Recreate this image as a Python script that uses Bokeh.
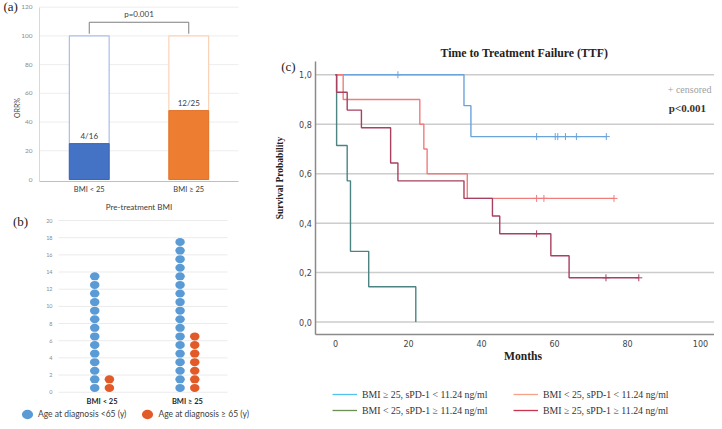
import numpy as np
from bokeh.plotting import figure
from bokeh.layouts import row, column
from bokeh.models import (FixedTicker, Label, Legend, LegendItem, CustomJSTickFormatter,
                          Range1d, Title, LinearAxis)
from bokeh.embed import file_html
from bokeh.resources import INLINE
from bokeh.core.properties import value

# ---------------- data ----------------
# Panel (a): objective response rate by BMI group
bmi_groups = ["BMI < 25", "BMI ≥ 25"]
orr_pct = [25, 48]
orr_text = ["4/16", "12/25"]
total_pct = [100, 100]
p_value_a = "p=0.001"
orr_ticks = [0, 20, 40, 60, 80, 100, 120]

# Panel (b): patient counts by age at diagnosis
age_young = [14, 18]   # < 65 y
age_old = [2, 7]       # >= 65 y
count_ticks = [0, 2, 4, 6, 8, 10, 12, 14, 16, 18, 20]
age_labels = ["Age at diagnosis <65 (y)", "Age at diagnosis ≥ 65 (y)"]

# Panel (c): Kaplan-Meier time to treatment failure
km_names = ["BMI ≥ 25, sPD-1 < 11.24 ng/ml", "BMI < 25, sPD-1 ≥ 11.24 ng/ml",
            "BMI < 25, sPD-1 < 11.24 ng/ml", "BMI ≥ 25, sPD-1 ≥ 11.24 ng/ml"]
blue_t = [0, 35.2, 37.1, 74.2]
blue_s = [1.0, 0.875, 0.75, 0.75]
blue_cens = [17.1, 55.1, 60.2, 60.9, 63.0, 66.0, 74.2]
salmon_t = [0, 2.1, 23.1, 24.2, 25.1, 36.1, 76.3]
salmon_s = [1.0, 0.9, 0.8, 0.7, 0.6, 0.5, 0.5]
salmon_cens = [55.1, 57.1, 76.3]
teal_t = [0, 0.3, 3.2, 4.1, 9.1, 22.0]
teal_s = [1.0, 0.714, 0.571, 0.286, 0.143, 0.0]
teal_cens = []
crimson_t = [0, 0.3, 3.2, 7.1, 15.1, 17.1, 35.2, 43.0, 45.0, 59.0, 64.0, 83.1]
crimson_s = [1.0, 0.929, 0.857, 0.786, 0.643, 0.571, 0.5, 0.429, 0.357, 0.268, 0.179, 0.179]
crimson_cens = [55.1, 74.1, 83.1]
month_ticks = [0, 20, 40, 60, 80, 100]
surv_ticks = [0.0, 0.2, 0.4, 0.6, 0.8, 1.0]

SANS = "Lato"
SERIF = "Liberation Serif"


def bare(ax):
    ax.major_tick_line_color = None
    ax.minor_tick_line_color = None
    ax.major_tick_out = 0
    ax.major_tick_in = 0
    ax.minor_tick_out = 0
    ax.minor_tick_in = 0


def label_axis(p, side, text, loc, bounds, standoff, font, size, style, color):
    ax = LinearAxis(ticker=FixedTicker(ticks=[]), fixed_location=loc, bounds=bounds,
                    axis_label=text, axis_line_color=None, major_label_standoff=0,
                    axis_label_standoff=standoff, axis_label_text_font=font,
                    axis_label_text_font_size=size, axis_label_text_font_style=style,
                    axis_label_text_color=color)
    bare(ax)
    p.add_layout(ax, side)


# ---------------- panel (a) ----------------
pa = figure(width=258, height=211, x_range=Range1d(-0.892, 1.701), y_range=Range1d(-22.28, 124.65),
            output_backend="svg", toolbar_location=None, min_border=0)
pa.outline_line_color = None
pa.xgrid.grid_line_color = None
pa.ygrid.grid_line_color = None
xa = list(range(len(bmi_groups)))
ax0 = -0.5
ax1 = 1.5
y_base = -1.4
pa.segment(x0=ax0, x1=ax1, y0=orr_ticks[1:], y1=orr_ticks[1:], line_color="#EDEDED", line_width=1)
pa.vbar(x=xa, top=total_pct, width=0.4, fill_color="white",
        line_color=["#A9BEE6", "#FAD2B6"], line_width=1.2)
pa.vbar(x=xa, top=orr_pct, width=0.4, fill_color=["#4472C4", "#ED7D31"],
        line_color=["#3E66B0", "#E0742C"], line_width=1)
pa.text(x=xa, y=orr_pct, text=orr_text, text_align="center", text_baseline="bottom",
        y_offset=-3, text_font=value(SANS), text_font_size="8px", text_color="#404040")
btop = max(total_pct) + 9.5
pa.line(x=[xa[0], xa[0], xa[1], xa[1]], y=[total_pct[0] + 1.5, btop, btop, total_pct[1] + 1.5],
        line_color="#7F7F7F", line_width=1)
pa.text(x=[(xa[0] + xa[1]) / 2], y=[btop + 2], text=[p_value_a], text_align="center",
        text_baseline="bottom", text_font=value(SANS), text_font_size="8px", text_color="#404040")
xa_ax = pa.xaxis[0]
ya_ax = pa.yaxis[0]
xa_ax.fixed_location = y_base
xa_ax.bounds = (ax0, ax1)
ya_ax.fixed_location = ax0
ya_ax.bounds = (y_base, max(orr_ticks))
xa_ax.ticker = FixedTicker(ticks=xa)
xa_ax.major_label_overrides = {i: g for i, g in enumerate(bmi_groups)}
ya_ax.ticker = FixedTicker(ticks=orr_ticks)
for ax in (xa_ax, ya_ax):
    bare(ax)
    ax.major_label_text_font = SANS
xa_ax.axis_line_color = "#BFBFBF"
ya_ax.axis_line_color = "#D9D9D9"
xa_ax.major_label_text_font_size = "7.5px"
xa_ax.major_label_text_color = "#404040"
xa_ax.major_label_standoff = 3
xa_ax.axis_label = "Pre-treatment BMI"
xa_ax.axis_label_text_font = SANS
xa_ax.axis_label_text_font_style = "normal"
xa_ax.axis_label_text_font_size = "8px"
xa_ax.axis_label_text_color = "#404040"
xa_ax.axis_label_standoff = 5
ya_ax.major_label_text_font_size = "6.5px"
ya_ax.major_label_text_color = "#8C8C8C"
ya_ax.major_label_standoff = 7
label_axis(pa, "left", "ORR%", ax0, (y_base, 101.2), 19, SANS, "7px", "normal", "#404040")
pa.add_layout(Label(x=-0.79, y=120.8, text="(a)", text_font=SERIF, text_font_size="13px",
                    text_color="#222222", text_align="center", text_baseline="middle"))

# ---------------- panel (b) ----------------
pb = figure(width=258, height=210, x_range=Range1d(-1.19, 1.833), y_range=Range1d(-3.41, 21.05),
            output_backend="svg", toolbar_location=None, min_border=0)
pb.outline_line_color = None
pb.xgrid.grid_line_color = None
pb.ygrid.grid_line_color = None
bx0, bx1 = -0.51, 1.47
pb.segment(x0=bx0, x1=bx1, y0=count_ticks, y1=count_ticks, line_color="#EBEBEB", line_width=1)
dx = 0.086
yx, yy, ox, oy = [], [], [], []
for i, (ny, no) in enumerate(zip(age_young, age_old)):
    yx += [i - dx] * ny
    yy += list(np.arange(ny) + 0.5)
    ox += [i + dx] * no
    oy += list(np.arange(no) + 0.5)
r_young = pb.ellipse(x=yx, y=yy, width=9.5, height=8, width_units="screen", height_units="screen",
                     fill_color="#5B9BD5", line_color=None)
r_old = pb.ellipse(x=ox, y=oy, width=9.5, height=8, width_units="screen", height_units="screen",
                   fill_color="#E35A29", line_color=None)
xb_ax = pb.xaxis[0]
yb_ax = pb.yaxis[0]
xb_ax.fixed_location = -0.2
xb_ax.bounds = (bx0, bx1)
yb_ax.fixed_location = bx0
yb_ax.bounds = (0, max(count_ticks))
xb_ax.ticker = FixedTicker(ticks=[0, 1])
xb_ax.major_label_overrides = {i: g for i, g in enumerate(bmi_groups)}
yb_ax.ticker = FixedTicker(ticks=count_ticks)
for ax in (xb_ax, yb_ax):
    bare(ax)
    ax.axis_line_color = None
    ax.major_label_text_font = SANS
xb_ax.major_label_text_font_size = "7.5px"
xb_ax.major_label_text_font_style = "bold"
xb_ax.major_label_text_color = "#262626"
xb_ax.major_label_standoff = 3
yb_ax.major_label_text_font_size = "5.5px"
yb_ax.major_label_text_color = "#8C8C8C"
yb_ax.major_label_standoff = 6
pb.add_layout(Label(x=-0.956, y=19.88, text="(b)", text_font=SERIF, text_font_size="13px",
                    text_color="#222222", text_align="center", text_baseline="middle"))
leg_b = Legend(items=[LegendItem(label=age_labels[0], renderers=[r_young]),
                      LegendItem(label=age_labels[1], renderers=[r_old])],
               location=(20, 0), orientation="horizontal", glyph_width=14, glyph_height=14,
               label_height=12, label_standoff=4, spacing=14, padding=0, margin=0,
               border_line_color=None, background_fill_alpha=0,
               label_text_font=SANS, label_text_font_size="8.5px", label_text_color="#404040")
pb.add_layout(leg_b, "center")

# ---------------- panel (c) ----------------
cx0 = -5.4
cy0 = -0.051
pc = figure(width=456, height=421, x_range=Range1d(-21.1, 103.84), y_range=Range1d(-0.402, 1.0657),
            output_backend="svg", toolbar_location=None,
            min_border_left=0, min_border_right=0, min_border_bottom=0, min_border_top=58)
pc.outline_line_color = None
pc.xgrid.grid_line_color = None
pc.ygrid.grid_line_color = None
pc.title = Title(text="Time to Treatment Failure (TTF)", align="left", offset=182,
                 text_font=SERIF, text_font_size="11.8px", text_font_style="bold",
                 text_color="#222222", standoff=-3)
pc.segment(x0=cx0, x1=pc.x_range.end, y0=surv_ticks, y1=surv_ticks, line_color="#CCCCCC",
           line_width=1.5)


def surv_at(times, surv, t):
    idx = np.searchsorted(np.asarray(times), t, side="right") - 1
    return [surv[k] for k in np.atleast_1d(idx)]


curves = [
    (blue_t, blue_s, blue_cens, "#6AA4DA"),
    (salmon_t, salmon_s, salmon_cens, "#F07C7C"),
    (teal_t, teal_s, teal_cens, "#4C8383"),
    (crimson_t, crimson_s, crimson_cens, "#A8405F"),
]
for t, s, cens, col in curves:
    pc.step(x=t, y=s, mode="after", line_color=col, line_width=1.4)
    if cens:
        pc.scatter(x=cens, y=surv_at(t, s, cens), marker="cross", size=7, line_color=col,
                   line_width=1)

legend_cols = ["#55C0EE", "#6E8F52", "#F7A186", "#C9344E"]
leg_renderers = [pc.line(x=[np.nan], y=[np.nan], line_color=c, line_width=1.3)
                 for c in legend_cols]
for k, vx in enumerate([74, 255]):
    leg_c = Legend(items=[LegendItem(label=km_names[2 * k + j], renderers=[leg_renderers[2 * k + j]])
                          for j in range(2)],
                   location=(vx, 3), orientation="vertical",
                   glyph_width=25, glyph_height=16, label_height=16, label_standoff=5, spacing=0,
                   padding=0, margin=0, border_line_color=None, background_fill_alpha=0,
                   label_text_font=SERIF, label_text_font_size="9.8px",
                   label_text_color="#333333")
    pc.add_layout(leg_c, "center")

xc_ax = pc.xaxis[0]
yc_ax = pc.yaxis[0]
xc_ax.fixed_location = cy0
xc_ax.bounds = (cx0, pc.x_range.end)
yc_ax.fixed_location = cx0
yc_ax.bounds = (cy0, 1.054)
xc_ax.ticker = FixedTicker(ticks=month_ticks)
yc_ax.ticker = FixedTicker(ticks=surv_ticks)
yc_ax.formatter = CustomJSTickFormatter(code="return tick.toFixed(1).replace('.', ',');")
for ax in (xc_ax, yc_ax):
    bare(ax)
    ax.axis_line_color = "#8A8A8A"
    ax.axis_line_width = 1.5
    ax.major_label_text_font = "DejaVu Sans"
    ax.major_label_text_font_size = "8px"
    ax.major_label_text_color = "#444444"
xc_ax.major_label_standoff = 5
yc_ax.major_label_standoff = 4
label_axis(pc, "below", "Months", cy0, (-1.0, 103.8), 15, SERIF, "11.6px", "bold", "#222222")
label_axis(pc, "left", "Survival Probability", cx0, (0.11, 1.054), 31, SERIF, "9.5px", "bold",
           "#222222")
pc.add_layout(Label(x=-12.9, y=1.0335, text="(c)", text_font=SERIF, text_font_size="13px",
                    text_color="#222222", text_align="center", text_baseline="middle"))
pc.add_layout(Label(x=103.0, y=0.94, text="+ censored", text_font=SERIF, text_font_size="10px",
                    text_color="#A0A0A0", text_align="right", text_baseline="middle"))
pc.add_layout(Label(x=101.5, y=0.865, text="p<0.001", text_font=SERIF, text_font_size="11px",
                    text_font_style="bold", text_color="#333333", text_align="right",
                    text_baseline="middle"))

layout = row(column(pa, pb), pc)
open("out.html", "w").write(file_html(layout, INLINE))
